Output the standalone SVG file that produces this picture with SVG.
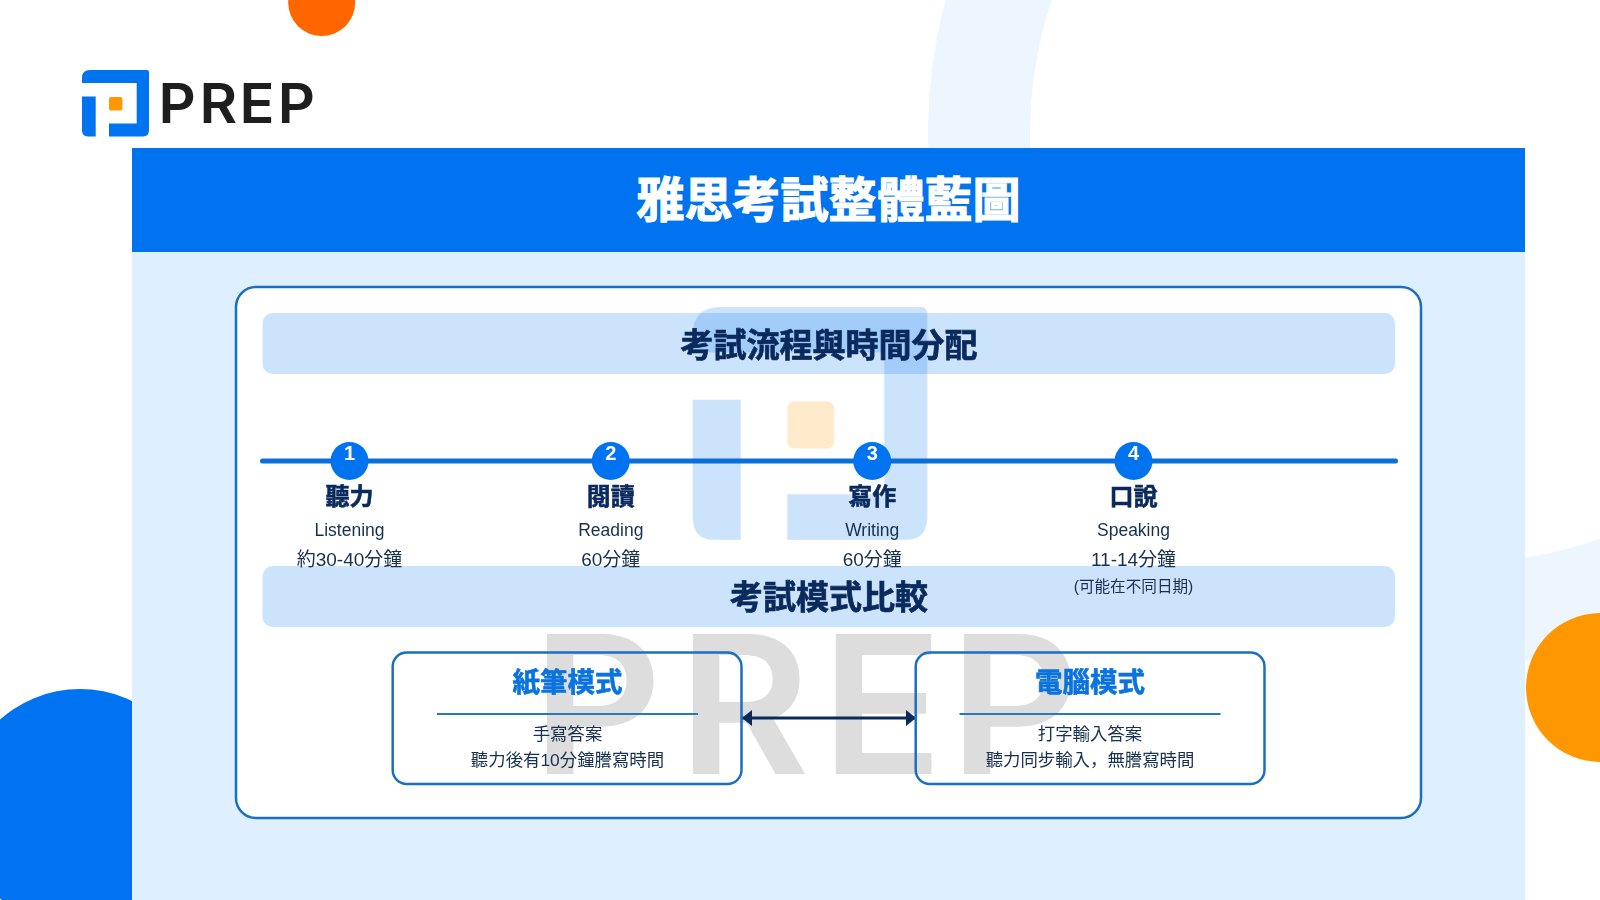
<svg xmlns="http://www.w3.org/2000/svg" width="1600" height="900" viewBox="0 0 1600 900">
<style>
text{font-family:"Liberation Sans","Noto Sans CJK JP",sans-serif;text-anchor:middle}
.h1{font-size:48px;font-weight:700;fill:#fff;stroke:#fff;stroke-width:1.2}
.h2{font-size:33px;font-weight:700;fill:#0a2a5e;stroke:#0a2a5e;stroke-width:.7}
.bar{fill:#0073f0;fill-opacity:.2}
.num{font-size:20px;font-weight:700;fill:#fff}
.st{font-size:24px;font-weight:700;fill:#0a2a5e;stroke:#0a2a5e;stroke-width:.6}
.en{font-size:17.5px;fill:#16304f}
.tm{font-size:19px;fill:#16304f}
.box{fill:none;stroke:#1a6fc0;stroke-width:2.5}
.mt{font-size:27.5px;font-weight:700;fill:#0a73e0;stroke:#0a73e0;stroke-width:.6}
.dv{stroke:#2a78b8;stroke-width:2}
.bd{font-size:17.4px;fill:#16304f}
.wm{font-family:Inter,"Liberation Sans",sans-serif;text-anchor:start}
.dot{fill:#0073f0}
</style>
<defs>
<marker id="ah" viewBox="0 0 10 16" refX="10" refY="8" markerWidth="10" markerHeight="16" markerUnits="userSpaceOnUse" orient="auto-start-reverse"><path d="M0 0L10 8L0 16Z" fill="#0a2a5e"/></marker>
<g id="logo">
<path fill="#0073f0" d="M82 83V78Q82 70 90 70H147Q149 70 149 72V130Q149 136.5 143 136.5H109V123.5H136.7V83Z"/>
<path fill="#0073f0" d="M82 96.5H95.7V136.5H88Q82 136.5 82 130Z"/>
<rect x="109" y="97" width="13.4" height="13.4" rx="2" fill="#ff9800"/>
</g>
</defs>
<rect width="1600" height="900" fill="#fff"/>
<g id="decor">
<circle cx="1458" cy="135" r="479" fill="none" stroke="#edf6ff" stroke-width="102"/>
<circle cx="321.7" cy="2.5" r="33.5" fill="#ff6600"/>
<circle cx="80" cy="809" r="120" fill="#0073f0"/>
<circle cx="1600.5" cy="687.5" r="74.5" fill="#ff9800"/>
</g>
<g id="brand">
<use href="#logo"/>
<text class="wm" font-weight="600" transform="scale(1.05 1)" x="151 190 228 264.5" y="122.7" font-size="55" fill="#1e1e1e">PREP</text>
</g>
<rect x="132" y="252" width="1393" height="648" fill="#deefff"/>
<g id="header">
<rect x="132" y="148" width="1393" height="104" fill="#0073f0"/>
<text class="h1" x="828.5" y="217">雅思考試整體藍圖</text>
</g>
<rect id="panel" x="236" y="287" width="1185" height="531" rx="20" fill="#fff" stroke="#1a6fc0" stroke-width="2.5"/>
<g id="watermark" opacity=".2">
<use href="#logo" transform="translate(405.7 62) scale(3.5)"/>
<text class="wm" font-weight="600" transform="scale(1.05 1)" x="507 646 782 904" y="774" font-size="192" fill="#555">PREP</text>
</g>
<g id="section-flow">
<rect class="bar" x="262.5" y="313" width="1132.5" height="61" rx="10"/>
<text class="h2" x="829" y="357">考試流程與時間分配</text>
</g>
<g id="section-mode">
<rect class="bar" x="262.5" y="566" width="1132.5" height="61" rx="10"/>
<text class="h2" x="829" y="609">考試模式比較</text>
</g>
<g id="connectors">
<line x1="262.5" y1="461" x2="1395.5" y2="461" stroke="#0a6fd8" stroke-width="5" stroke-linecap="round"/>
<line x1="742" y1="718" x2="916" y2="718" stroke="#0a2a5e" stroke-width="3" marker-start="url(#ah)" marker-end="url(#ah)"/>
</g>
<g id="step-1">
<circle class="dot" cx="349.5" cy="461" r="19"/>
<text class="num" x="349.5" y="460">1</text>
<text class="st" x="349.5" y="505">聽力</text>
<text class="en" x="349.5" y="535.5">Listening</text>
<text class="tm" x="349.5" y="566">約30-40分鐘</text>
</g>
<g id="step-2">
<circle class="dot" cx="610.8" cy="461" r="19"/>
<text class="num" x="610.8" y="460">2</text>
<text class="st" x="610.8" y="505">閱讀</text>
<text class="en" x="610.8" y="535.5">Reading</text>
<text class="tm" x="610.8" y="566">60分鐘</text>
</g>
<g id="step-3">
<circle class="dot" cx="872.2" cy="461" r="19"/>
<text class="num" x="872.2" y="460">3</text>
<text class="st" x="872.2" y="505">寫作</text>
<text class="en" x="872.2" y="535.5">Writing</text>
<text class="tm" x="872.2" y="566">60分鐘</text>
</g>
<g id="step-4">
<circle class="dot" cx="1133.5" cy="461" r="19"/>
<text class="num" x="1133.5" y="460">4</text>
<text class="st" x="1133.5" y="505">口說</text>
<text class="en" x="1133.5" y="535.5">Speaking</text>
<text class="tm" x="1133.5" y="566">11-14分鐘</text>
<text x="1133.5" y="592" font-size="15.6" fill="#16304f">(可能在不同日期)</text>
</g>
<g id="mode-paper">
<rect class="box" x="392.7" y="652.5" width="348.8" height="131.5" rx="14"/>
<text class="mt" x="567.5" y="692">紙筆模式</text>
<line class="dv" x1="437" y1="714" x2="698" y2="714"/>
<text class="bd" x="567.5" y="740">手寫答案</text>
<text class="bd" x="567.5" y="766">聽力後有10分鐘謄寫時間</text>
</g>
<g id="mode-computer">
<rect class="box" x="915.7" y="652.5" width="348.8" height="131.5" rx="14"/>
<text class="mt" x="1090" y="692">電腦模式</text>
<line class="dv" x1="959.5" y1="714" x2="1220.5" y2="714"/>
<text class="bd" x="1090" y="740">打字輸入答案</text>
<text class="bd" x="1090" y="766">聽力同步輸入，無謄寫時間</text>
</g>
</svg>
